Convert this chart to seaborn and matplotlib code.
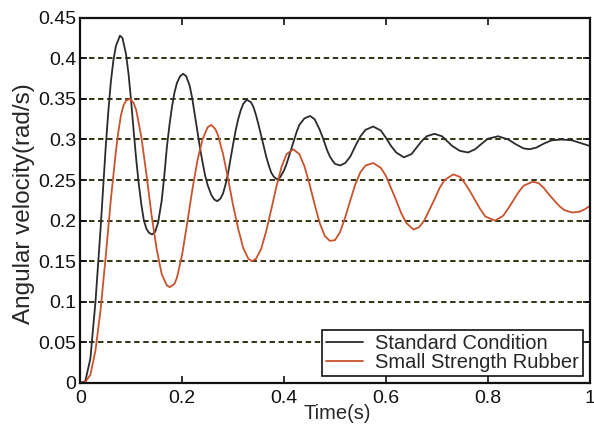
import matplotlib
matplotlib.use("Agg")
import matplotlib.pyplot as plt
import seaborn as sns
import pandas as pd

# Standard Condition (black)
std_time = [0.0, 0.01, 0.02, 0.03, 0.04, 0.045, 0.05, 0.055, 0.06, 0.065, 0.07,
            0.078, 0.083, 0.09, 0.095, 0.10, 0.105, 0.11, 0.115, 0.12, 0.125,
            0.13, 0.135, 0.141, 0.147, 0.153, 0.16, 0.165, 0.17, 0.175, 0.18,
            0.185, 0.19, 0.196, 0.202, 0.208, 0.215, 0.22, 0.225, 0.23, 0.235,
            0.24, 0.245, 0.25, 0.257, 0.263, 0.269, 0.275, 0.28, 0.285, 0.29,
            0.295, 0.30, 0.305, 0.31, 0.315, 0.32, 0.327, 0.335, 0.34, 0.345,
            0.35, 0.355, 0.36, 0.365, 0.37, 0.375, 0.38, 0.386, 0.392, 0.40,
            0.405, 0.41, 0.415, 0.42, 0.425, 0.43, 0.44, 0.451, 0.46, 0.47,
            0.475, 0.48, 0.485, 0.49, 0.495, 0.50, 0.51, 0.52, 0.53, 0.54,
            0.55, 0.56, 0.575, 0.59, 0.60, 0.61, 0.62, 0.635, 0.65, 0.66,
            0.67, 0.68, 0.695, 0.71, 0.72, 0.73, 0.745, 0.761, 0.775, 0.79,
            0.80, 0.82, 0.84, 0.855, 0.87, 0.882, 0.895, 0.91, 0.925, 0.945,
            0.965, 0.98, 1.0]
std_vel = [0.0, 0.002, 0.03, 0.10, 0.19, 0.24, 0.29, 0.333, 0.37, 0.397, 0.415,
           0.428, 0.425, 0.405, 0.38, 0.347, 0.31, 0.275, 0.245, 0.22, 0.2,
           0.19, 0.185, 0.183, 0.186, 0.198, 0.225, 0.255, 0.29, 0.317, 0.34,
           0.358, 0.37, 0.378, 0.381, 0.378, 0.366, 0.35, 0.33, 0.31, 0.29,
           0.272, 0.256, 0.244, 0.232, 0.226, 0.224, 0.227, 0.233, 0.244, 0.258,
           0.276, 0.294, 0.311, 0.325, 0.336, 0.344, 0.349, 0.346, 0.34, 0.33,
           0.318, 0.305, 0.292, 0.279, 0.268, 0.259, 0.254, 0.251, 0.253, 0.262,
           0.27, 0.28, 0.29, 0.30, 0.31, 0.318, 0.326, 0.329, 0.325, 0.312,
           0.304, 0.295, 0.286, 0.279, 0.274, 0.27, 0.268, 0.271, 0.279, 0.292,
           0.304, 0.312, 0.316, 0.311, 0.302, 0.292, 0.284, 0.278, 0.282, 0.29,
           0.298, 0.304, 0.307, 0.304, 0.298, 0.292, 0.286, 0.284, 0.288, 0.296,
           0.301, 0.304, 0.30, 0.294, 0.289, 0.288, 0.29, 0.295, 0.299, 0.30,
           0.299, 0.296, 0.292]

# Small Strength Rubber (orange-red)
rub_time = [0.0, 0.01, 0.02, 0.03, 0.04, 0.05, 0.06, 0.07, 0.075, 0.08, 0.085,
            0.09, 0.098, 0.105, 0.11, 0.12, 0.13, 0.14, 0.15, 0.16, 0.17,
            0.176, 0.185, 0.19, 0.20, 0.21, 0.22, 0.23, 0.24, 0.25, 0.257,
            0.265, 0.27, 0.28, 0.29, 0.30, 0.31, 0.32, 0.33, 0.337, 0.345,
            0.355, 0.365, 0.375, 0.385, 0.395, 0.405, 0.418, 0.43, 0.44, 0.45,
            0.46, 0.47, 0.48, 0.49, 0.50, 0.51, 0.52, 0.53, 0.54, 0.55,
            0.56, 0.575, 0.59, 0.60, 0.61, 0.62, 0.63, 0.64, 0.654, 0.665,
            0.675, 0.685, 0.695, 0.705, 0.715, 0.732, 0.745, 0.755, 0.765, 0.775,
            0.785, 0.795, 0.814, 0.83, 0.84, 0.85, 0.86, 0.87, 0.888, 0.90,
            0.91, 0.92, 0.93, 0.94, 0.95, 0.965, 0.98, 0.99, 1.0]
rub_vel = [0.0, 0.001, 0.01, 0.04, 0.09, 0.155, 0.225, 0.285, 0.31, 0.33, 0.342,
           0.348, 0.35, 0.345, 0.336, 0.303, 0.257, 0.207, 0.165, 0.134, 0.12,
           0.118, 0.122, 0.13, 0.158, 0.197, 0.238, 0.274, 0.30, 0.315, 0.318,
           0.313, 0.306, 0.283, 0.252, 0.219, 0.19, 0.166, 0.153, 0.15, 0.153,
           0.165, 0.187, 0.214, 0.242, 0.266, 0.282, 0.288, 0.282, 0.267, 0.245,
           0.22, 0.197, 0.181, 0.175, 0.176, 0.186, 0.204, 0.225, 0.245, 0.26,
           0.268, 0.271, 0.265, 0.255, 0.24, 0.225, 0.209, 0.197, 0.189, 0.192,
           0.20, 0.213, 0.226, 0.24, 0.25, 0.257, 0.254, 0.246, 0.236, 0.225,
           0.214, 0.205, 0.20, 0.206, 0.215, 0.225, 0.235, 0.243, 0.248, 0.246,
           0.24, 0.232, 0.225, 0.218, 0.213, 0.21, 0.211, 0.214, 0.218]

x_ticks = [0, 0.2, 0.4, 0.6, 0.8, 1.0]
x_tick_labels = ["0", "0.2", "0.4", "0.6", "0.8", "1"]
y_ticks = [0, 0.05, 0.1, 0.15, 0.2, 0.25, 0.3, 0.35, 0.4, 0.45]
y_tick_labels = ["0", "0.05", "0.1", "0.15", "0.2", "0.25", "0.3", "0.35", "0.4", "0.45"]

df = pd.concat([
    pd.DataFrame({"t": std_time, "v": std_vel, "case": "Standard Condition"}),
    pd.DataFrame({"t": rub_time, "v": rub_vel, "case": "Small Strength Rubber"}),
])

sns.set_style("ticks")
plt.rcParams["font.family"] = ["Liberation Sans", "DejaVu Sans"]

fig = plt.figure(figsize=(5.94, 4.24), dpi=100)
ax = fig.add_axes([0.135, 0.097, 0.858, 0.861])

palette = {"Standard Condition": "#2b2b2b", "Small Strength Rubber": "#c9532c"}
sns.lineplot(data=df, x="t", y="v", hue="case", palette=palette, ax=ax,
             linewidth=1.3, sort=False, estimator=None)

# dotted horizontal grid
for yv in y_ticks[1:-1]:
    ax.axhline(yv, color="#222200", linestyle=(0, (3, 2)), linewidth=1.3, zorder=0)

ax.set_xlim(0, 1)
ax.set_ylim(0, 0.45)
ax.set_xticks(x_ticks)
ax.set_xticklabels(x_tick_labels)
ax.set_yticks(y_ticks)
ax.set_yticklabels(y_tick_labels)
ax.tick_params(direction="in", top=True, right=True, length=5, width=1.2,
               labelsize=14, colors="#111111")
ax.tick_params(axis="x", pad=5)
ax.tick_params(axis="y", pad=3)
for sp in ax.spines.values():
    sp.set_visible(True)
    sp.set_linewidth(1.6)
    sp.set_color("#111111")

ax.set_xlabel("Time(s)", fontsize=14.5)
ax.xaxis.set_label_coords(0.505, -0.057)
ax.set_ylabel("Angular velocity(rad/s)", fontsize=17.5)
ax.yaxis.set_label_coords(-0.088, 0.49)

leg = ax.legend(loc="lower right", fontsize=14.5, frameon=True, fancybox=False,
                edgecolor="#111111", framealpha=1, borderpad=0.2,
                labelspacing=0.0, handlelength=1.85, handletextpad=0.6,
                borderaxespad=0.35)
leg.get_frame().set_linewidth(1.2)
for line in leg.get_lines():
    line.set_linewidth(1.3)

fig.savefig("out.png", dpi=100)
